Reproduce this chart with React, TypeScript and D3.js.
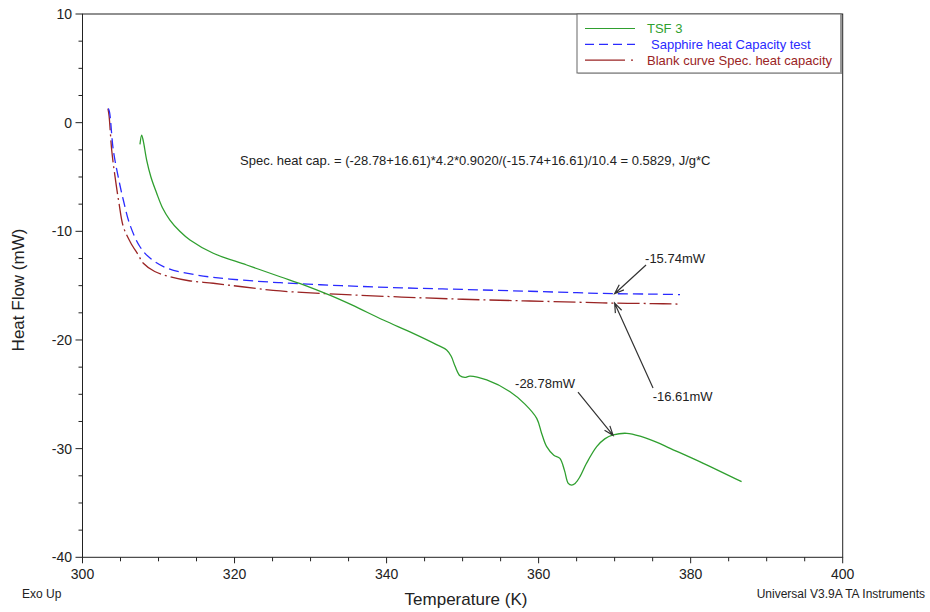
import React from "react";
import * as d3 from "d3";

// Sample run (TSF 3)
const tsfTemp = [307.56, 307.78, 308.0, 308.44, 309.0, 309.76, 310.5, 311.5, 312.8, 314.14, 317.2, 321.6, 326.0, 329.0, 332.6, 335.5, 339.57, 343.5, 346.5, 347.9, 348.5, 349.0, 349.66, 350.3, 350.97, 353.17, 356.24, 358.2, 359.75, 360.4, 361.06, 362.0, 362.8, 363.4, 363.9, 364.35, 364.8, 365.44, 366.3, 367.64, 368.7, 369.82, 371.6, 373.55, 375.5, 377.3, 381.66, 386.7];
const tsfHeat = [-2.0, -1.14, -1.7, -3.44, -5.0, -6.5, -7.8, -8.96, -10.0, -10.8, -12.02, -13.1, -14.18, -14.9, -15.9, -16.8, -18.16, -19.39, -20.4, -20.92, -21.5, -22.4, -23.3, -23.45, -23.32, -23.68, -24.76, -25.9, -27.21, -28.6, -29.82, -30.6, -30.89, -32.0, -33.19, -33.35, -33.2, -32.58, -31.35, -29.82, -29.1, -28.74, -28.59, -28.9, -29.4, -29.97, -31.35, -33.04];

// Sapphire reference run
const sapphireTemp = [303.4, 303.55, 304.05, 304.7, 305.37, 306.25, 307.56, 308.88, 311.08, 315.0, 319.4, 326.0, 334, 342, 350, 358, 365, 370, 375, 378.6];
const sapphireHeat = [1.3, 1.0, -2.52, -5.0, -7.12, -9.42, -11.42, -12.46, -13.38, -14.02, -14.39, -14.73, -15.0, -15.2, -15.35, -15.5, -15.65, -15.74, -15.78, -15.82];

// Empty-pan baseline
const blankTemp = [303.35, 303.5, 303.84, 304.28, 304.8, 305.37, 306.3, 307.34, 308.0, 309.5, 311.5, 314, 317.2, 321, 326.0, 334, 342, 350, 358, 365, 370, 375, 378.6];
const blankHeat = [1.3, 0.6, -2.52, -4.97, -7.4, -9.57, -11.0, -12.18, -12.94, -13.7, -14.18, -14.55, -14.78, -15.1, -15.49, -15.8, -16.05, -16.25, -16.4, -16.52, -16.61, -16.65, -16.7];

const xTicks = [300, 320, 340, 360, 380, 400];
const yTicks = [10, 0, -10, -20, -30, -40];

// Point readings used by the Cp formula
const readings = [
  { label: "-15.74mW", t: 370.0, v: -15.74, tailT: 374.13, tailV: -13.1, textT: 374.0, textV: -12.9 },
  { label: "-16.61mW", t: 370.0, v: -16.61, tailT: 375.05, tailV: -24.42, textT: 375.0, textV: -25.62 },
  { label: "-28.78mW", t: 369.8, v: -28.78, tailT: 365.18, tailV: -24.79, textT: 356.9, textV: -24.42 },
];

const formula = "Spec. heat cap. = (-28.78+16.61)*4.2*0.9020/(-15.74+16.61)/10.4 = 0.5829, J/g*C";

const legendItems = [
  { name: "TSF 3", color: "#2f9f2f", text: "#2f9f2f", dash: "none", pad: 0 },
  { name: "Sapphire heat Capacity test", color: "#2a2aff", text: "#2a2aff", dash: "9,5", pad: 4 },
  { name: "Blank curve Spec. heat capacity", color: "#9a2424", text: "#9a2424", dash: "40,6,2,6", pad: 0 },
];

const FONT = "'Liberation Sans', Arial, sans-serif";

export default function App() {
  const left = 82.5, right = 842.7, top = 14, bottom = 557.3;
  const x = d3.scaleLinear().domain([300, 400]).range([left, right]);
  const y = d3.scaleLinear().domain([-40, 10]).range([bottom, top]);

  const line = (ts: number[], vs: number[]) =>
    d3.line<number>()
      .x((_, i) => x(ts[i]))
      .y((v) => y(v))
      .curve(d3.curveCatmullRom.alpha(0.5))(vs) as string;

  const xMinor = d3.range(300, 401, 5);
  const yMinor = d3.range(-40, 10.01, 2.5);

  const arrow = (x1: number, y1: number, x2: number, y2: number) => {
    const a = Math.atan2(y2 - y1, x2 - x1);
    const L = 10, w = 0.35;
    const p1 = [x2 - L * Math.cos(a - w), y2 - L * Math.sin(a - w)];
    const p2 = [x2 - L * Math.cos(a + w), y2 - L * Math.sin(a + w)];
    return `M${x1},${y1}L${x2},${y2}M${p1[0]},${p1[1]}L${x2},${y2}L${p2[0]},${p2[1]}`;
  };

  return (
    <svg width={930} height={612} style={{ position: "absolute", left: 0, top: 0, background: "#fff" }} fontFamily={FONT}>
      <rect x={0} y={0} width={930} height={612} fill="#fff" />
      {/* frame */}
      <rect x={left} y={top} width={right - left} height={bottom - top} fill="none" stroke="#222" strokeWidth={1} />

      {/* x ticks */}
      {xMinor.map((t) => (
        <line key={"xm" + t} x1={x(t)} x2={x(t)} y1={bottom} y2={bottom + (t % 20 === 0 ? 6 : 4)} stroke="#222" />
      ))}
      {xTicks.map((t) => (
        <text key={"xt" + t} x={x(t)} y={579} fontSize={14} textAnchor="middle" fill="#222">{t}</text>
      ))}

      {/* y ticks */}
      {yMinor.map((v) => (
        <line key={"ym" + v} x1={left} x2={left - (v % 10 === 0 ? 7 : 4)} y1={y(v)} y2={y(v)} stroke="#222" />
      ))}
      {yTicks.map((v) => (
        <text key={"yt" + v} x={72} y={y(v) + 5} fontSize={14} textAnchor="end" fill="#222">{v}</text>
      ))}

      {/* axis titles */}
      <text x={466} y={605} fontSize={17} textAnchor="middle" fill="#222">Temperature (K)</text>
      <text transform={`translate(24,290) rotate(-90)`} fontSize={17} textAnchor="middle" fill="#222">Heat Flow (mW)</text>
      <text x={22} y={598} fontSize={12} fill="#222">Exo Up</text>
      <text x={925} y={598} fontSize={12} textAnchor="end" fill="#222">Universal V3.9A TA Instruments</text>

      {/* curves */}
      <path d={line(blankTemp, blankHeat)} fill="none" stroke={legendItems[2].color} strokeWidth={1.3} strokeDasharray="22,4,2,4" />
      <path d={line(sapphireTemp, sapphireHeat)} fill="none" stroke={legendItems[1].color} strokeWidth={1.3} strokeDasharray="10,5" />
      <path d={line(tsfTemp, tsfHeat)} fill="none" stroke={legendItems[0].color} strokeWidth={1.3} />

      {/* formula */}
      <text x={240} y={165} fontSize={13} fill="#222">{formula}</text>

      {/* readings */}
      {readings.map((r) => (
        <g key={r.label}>
          <path d={arrow(x(r.tailT), y(r.tailV), x(r.t), y(r.v))} fill="none" stroke="#333" strokeWidth={1.2} />
          <text x={x(r.textT)} y={y(r.textV)} fontSize={13} fill="#222">{r.label}</text>
        </g>
      ))}

      {/* legend */}
      <g>
        <rect x={577} y={14} width={264} height={59} fill="#fff" stroke="#666" strokeWidth={1} />
        <line x1={841} y1={15} x2={841} y2={74} stroke="#999" strokeWidth={2} />
        <line x1={578} y1={73.5} x2={842} y2={73.5} stroke="#999" strokeWidth={1} />
        {legendItems.map((it, i) => (
          <g key={it.name}>
            <line x1={585} x2={635} y1={28.5 + i * 15.8} y2={28.5 + i * 15.8} stroke={it.color} strokeWidth={1.2} strokeDasharray={it.dash} />
            <text x={647 + it.pad} y={33 + i * 15.8} fontSize={13} fill={it.text}>{it.name}</text>
          </g>
        ))}
      </g>
    </svg>
  );
}
